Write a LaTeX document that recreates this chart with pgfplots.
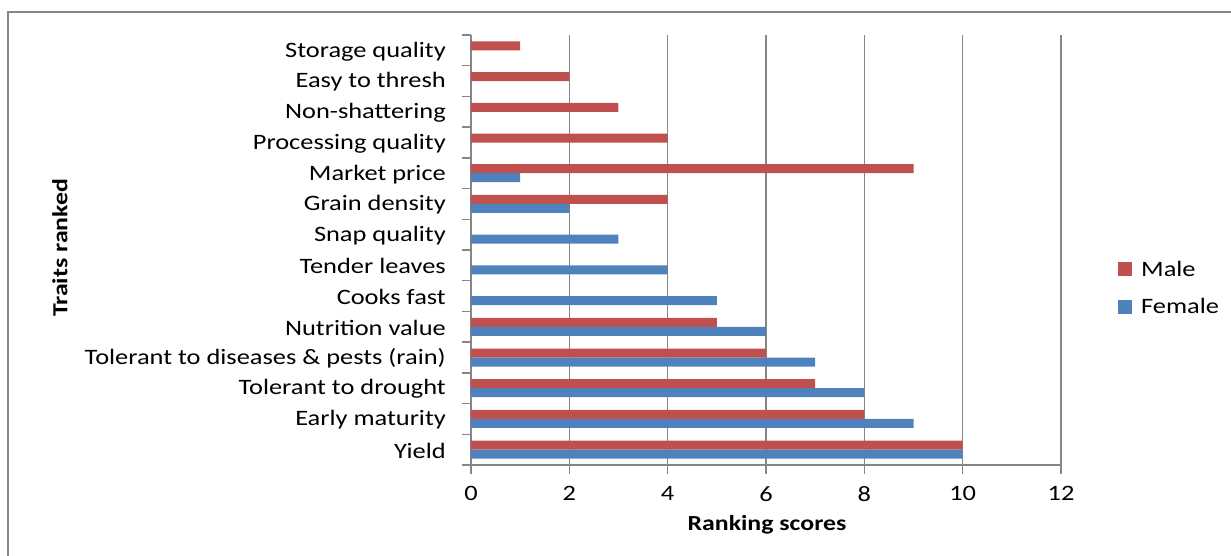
\documentclass[border=0pt]{standalone}
\usepackage{pgfplots}
\pgfplotsset{compat=1.18}
\usepackage{fontspec}
\setmainfont{Carlito}[FakeStretch=1.2]
\definecolor{male}{HTML}{C0504D}
\definecolor{female}{HTML}{4F81BD}
\definecolor{gridgray}{HTML}{868686}
\begin{document}
\begin{tikzpicture}
\useasboundingbox (-471pt,-90pt) rectangle (760pt,465pt);
\draw[color=gridgray, line width=2pt] (-463pt,-120pt) rectangle (800pt,453pt);
\begin{axis}[
  at={(0pt,0pt)}, anchor=south west,
  scale only axis, width=590pt, height=430pt,
  xbar, bar width=9pt,
  xmin=0, xmax=12, ymin=-0.5, ymax=13.5,
  enlargelimits=false,
  axis x line*=bottom, axis y line*=left,
  axis line style={-, draw=gridgray, line width=1.3pt},
  xtick={0,2,...,12},
  xmajorgrids, grid style={gridgray, line width=1.2pt},
  ytick={-0.5,0.5,...,13.5}, yticklabels={},
  extra y ticks={0,1,...,13},
  extra y tick labels={Yield,Early maturity,Tolerant to drought,Tolerant to diseases \& pests (rain),Nutrition value,Cooks fast,Tender leaves,Snap quality,Grain density,Market price,Processing quality,Non-shattering,Easy to thresh,Storage quality},
  extra y tick style={major tick length=0pt, ymajorgrids=false},
  tick align=outside, major tick length=9pt,
  tick style={draw=gridgray, line width=1.3pt},
  ticklabel style={font=\fontsize{22}{26}\selectfont, text=black},
  /pgf/number format/assume math mode=true,
  yticklabel style={inner sep=0pt, xshift=-25pt, yshift=-1pt},
  xticklabel style={inner sep=0pt, yshift=-12pt},
  xlabel={\textbf{Ranking scores}},
  ylabel={\textbf{Traits ranked}},
  label style={font=\fontsize{21.5}{25}\selectfont},
  xlabel style={at={(axis description cs:0.5017,-0.1395)}, anchor=center},
  ylabel style={at={(axis description cs:-0.6966,0.505)}, anchor=center, rotate=0},
  legend style={draw=none, fill=none, at={(axis description cs:1.0966,0.4116)}, anchor=west,
    font=\fontsize{22}{26}\selectfont, row sep=17pt, inner sep=0pt},
  legend cell align=left,
  legend image code/.code={\fill[#1] (0pt,-7pt) rectangle (14pt,7pt); \path (21pt,0pt);},
]
\addplot+[draw=none, fill=male, bar shift=4.5pt] coordinates {
  (10,0) (8,1) (7,2) (6,3) (5,4) (4,8) (9,9) (4,10) (3,11) (2,12) (1,13)
};
\addplot+[draw=none, fill=female, bar shift=-4.5pt] coordinates {
  (10,0) (9,1) (8,2) (7,3) (6,4) (5,5) (4,6) (3,7) (2,8) (1,9)
};
\legend{Male,Female}
\end{axis}
\end{tikzpicture}
\end{document}
